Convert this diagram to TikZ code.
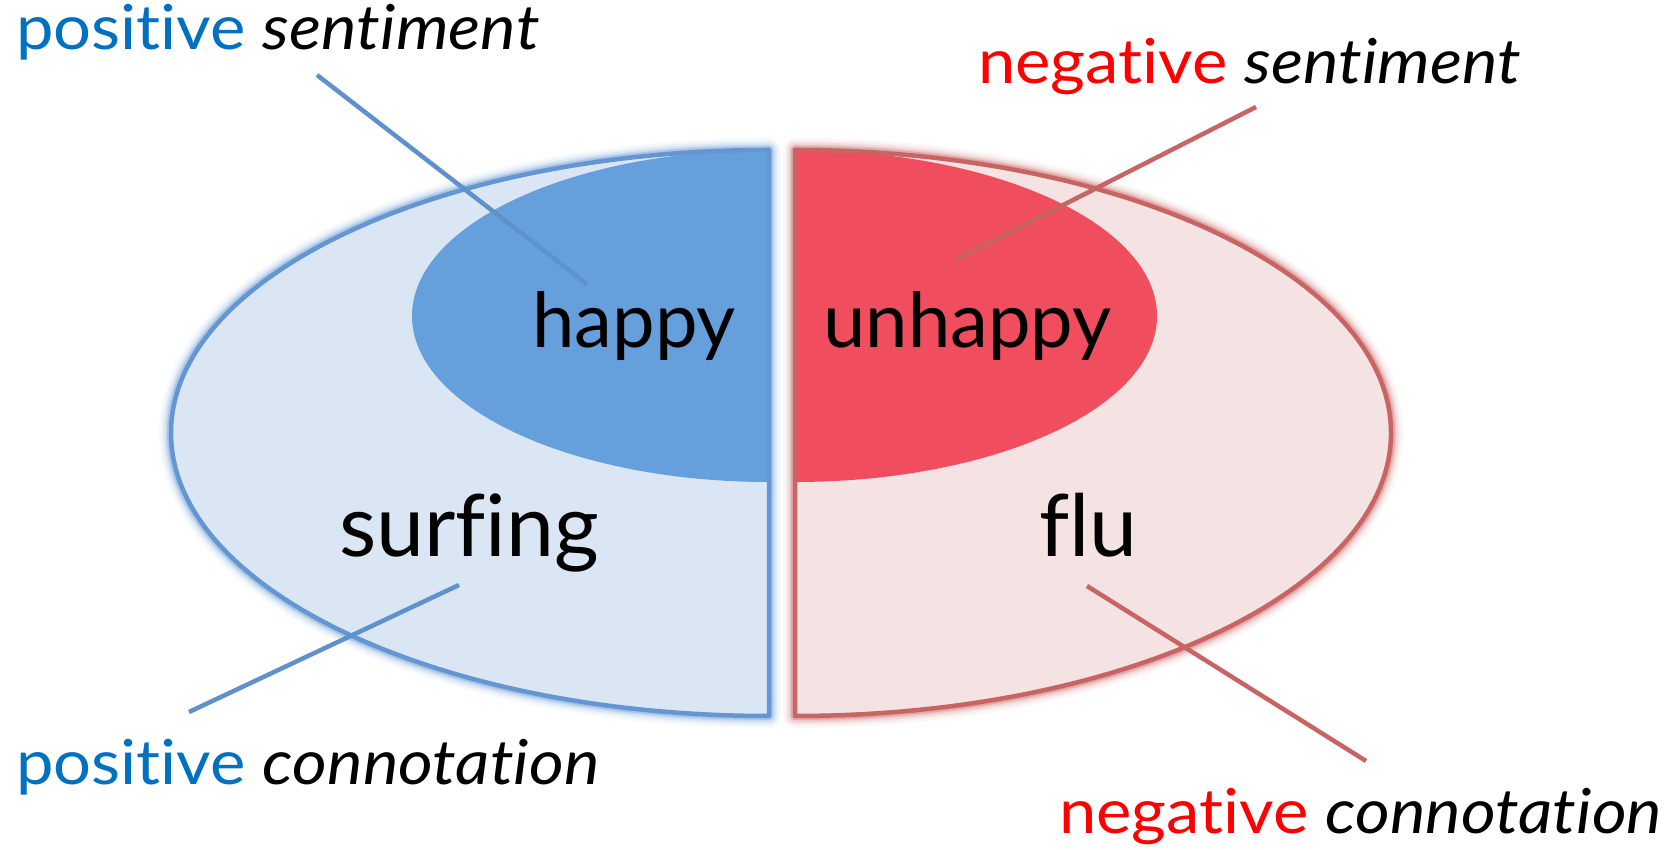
\documentclass[tikz,border=0pt]{standalone}
\usepackage{fontspec}
\setmainfont{Lato}[Ligatures=NoCommon]
\definecolor{bluelight}{RGB}{219,230,245}
\definecolor{bluedark}{RGB}{102,160,220}
\definecolor{blueedge}{RGB}{100,150,210}
\definecolor{blueline}{RGB}{95,145,205}
\definecolor{bluetext}{RGB}{0,112,192}
\definecolor{pinklight}{RGB}{245,226,226}
\definecolor{reddark}{RGB}{240,78,94}
\definecolor{rededge}{RGB}{200,100,100}
\definecolor{redline}{RGB}{200,100,100}
\definecolor{redtext}{RGB}{255,0,0}
\tikzset{
  label/.style={anchor=base west, inner sep=0pt, xscale=1.08, font=\fontsize{62}{70}\selectfont},
  word/.style={anchor=base west, inner sep=0pt, font=\fontsize{76}{86}\selectfont},
  bigword/.style={anchor=base west, inner sep=0pt, font=\fontsize{86}{96}\selectfont},
  pointer/.style={line width=4.5pt},
}
\newcommand{\leftouter}{(769,700) arc[start angle=90, end angle=270, x radius=598pt, y radius=283pt] -- cycle}
\newcommand{\rightouter}{(795,700) arc[start angle=90, end angle=-90, x radius=596pt, y radius=283pt] -- cycle}
\begin{document}
\begin{tikzpicture}[x=1pt, y=1pt]
\useasboundingbox (0,0) rectangle (1680,850);
% soft glow around the two halves
\foreach \w/\o in {24/0.05, 19/0.08, 15/0.12, 11/0.18, 8/0.3} {
  \draw[blueedge, line width=\w pt, opacity=\o, line join=round] \leftouter;
  \draw[rededge, line width=\w pt, opacity=\o, line join=round] \rightouter;
}
% left half: positive
\fill[bluelight] \leftouter;
\fill[bluedark] (769,700) arc[start angle=90, end angle=270, x radius=357pt, y radius=166pt] -- cycle;
\draw[blueedge, line width=4.5pt, line join=round] \leftouter;
% right half: negative
\fill[pinklight] \rightouter;
\fill[reddark] (795,700) arc[start angle=90, end angle=-90, x radius=362pt, y radius=166pt] -- cycle;
\draw[rededge, line width=4.5pt, line join=round] \rightouter;
% words inside
\node[word] (happy) at (532,502) {happy};
\node[word] (unhappy) at (823,502) {unhappy};
\node[bigword] (surfing) at (339,293) {surfing};
\node[bigword] (flu) at (1039,293) {flu};
% outside labels
\node[label] (possent) at (16,800) {\textcolor{bluetext}{positive} \itshape sentiment};
\node[label] (negsent) at (978,766) {\textcolor{redtext}{negative} \itshape sentiment};
\node[label] (poscon) at (16,65) {\textcolor{bluetext}{positive} \itshape connotation};
\node[label] (negcon) at (1059,16) {\textcolor{redtext}{negative} \itshape connotation};
% pointer lines
\coordinate (b1s) at (317,775); \coordinate (b1e) at (587,566);
\coordinate (r1s) at (1256,743); \coordinate (r1e) at (957,591);
\coordinate (b2s) at (459,265); \coordinate (b2e) at (189,138);
\coordinate (r2s) at (1087,264); \coordinate (r2e) at (1366,89);
\draw[pointer, blueline] (b1s) -- (b1e);
\draw[pointer, redline] (r1s) -- (r1e);
\draw[pointer, blueline] (b2s) -- (b2e);
\draw[pointer, redline] (r2s) -- (r2e);
\end{tikzpicture}
\end{document}
